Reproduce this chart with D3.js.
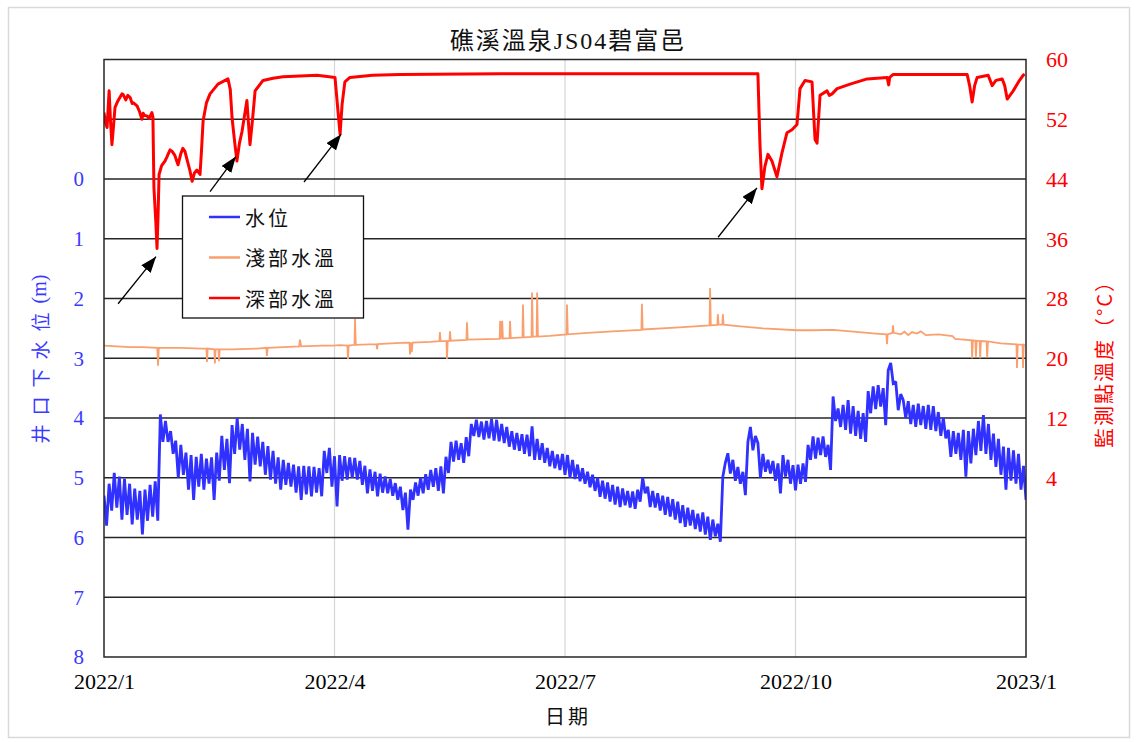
<!DOCTYPE html>
<html><head><meta charset="utf-8">
<script src="https://cdn.jsdelivr.net/npm/d3@7/dist/d3.min.js"></script>
<style>body{margin:0;background:#fff}svg{display:block}</style>
</head><body><svg id="c" width="1137" height="742"></svg>
<script>
// ---------------- DATA ----------------
const chartTitle = "礁溪溫泉JS04碧富邑";
const xTitle = "日期";
const yLeftTitle = "井口下水位";
const yLeftUnit = "(m)";
const yRightTitle = "監測點溫度（°C）";
const seriesNames = ["水位", "淺部水溫", "深部水溫"];
const xTickDates = ["2022-01-01", "2022-04-01", "2022-07-01", "2022-10-01", "2023-01-01"];
const xTickLabels = ["2022/1", "2022/4", "2022/7", "2022/10", "2023/1"];
const leftTicks = [0, 1, 2, 3, 4, 5, 6, 7, 8];
const rightTicks = [4, 12, 20, 28, 36, 44, 52, 60];
const startDate = "2022-01-01";

// water level below well head (m), one reading per day from 2022/1/1
const levelValues = [
5.30,5.80,5.10,5.55,4.92,5.50,4.98,5.70,5.02,5.62,5.10,5.78,5.18,5.70,5.22,5.95,5.20,5.72,5.12,5.65,
5.06,5.72,3.94,4.40,4.05,4.40,4.22,4.60,4.38,5.00,4.45,4.95,4.58,5.20,4.62,5.37,4.65,5.15,4.60,5.20,
4.68,5.10,4.66,5.37,4.58,5.05,4.30,4.87,4.35,5.09,4.12,4.60,4.00,4.53,4.10,4.70,4.18,5.06,4.25,4.78,
4.31,4.81,4.40,4.95,4.47,5.03,4.55,5.10,4.66,5.20,4.70,5.12,4.75,5.15,4.78,5.25,4.81,5.37,4.80,5.28,
4.81,5.31,4.82,5.25,4.84,5.31,4.55,4.92,4.50,5.15,4.64,5.48,4.62,5.05,4.64,5.03,4.66,5.00,4.67,5.03,
4.72,5.12,4.80,5.26,4.86,5.22,4.90,5.31,4.93,5.25,4.98,5.26,5.02,5.30,5.09,5.37,5.15,5.54,5.25,5.87,
5.20,5.37,5.08,5.30,5.00,5.26,4.94,5.20,4.87,5.15,4.84,5.22,4.81,5.26,4.65,4.92,4.40,4.73,4.38,4.70,
4.42,4.75,4.32,4.64,4.10,4.30,4.03,4.32,4.06,4.36,4.05,4.34,4.02,4.38,4.03,4.39,4.10,4.42,4.15,4.48,
4.22,4.53,4.25,4.55,4.27,4.60,4.28,4.64,4.14,4.70,4.35,4.70,4.42,4.75,4.50,4.81,4.55,4.84,4.61,4.87,
4.60,4.95,4.62,5.00,4.70,5.02,4.78,5.06,4.84,5.10,4.90,5.16,4.95,5.22,5.00,5.32,5.05,5.35,5.08,5.40,
5.12,5.45,5.15,5.49,5.18,5.46,5.22,5.50,5.23,5.52,5.20,5.40,5.00,5.26,5.15,5.49,5.22,5.50,5.26,5.55,
5.30,5.62,5.32,5.65,5.36,5.70,5.40,5.76,5.46,5.82,5.50,5.80,5.54,5.86,5.60,5.90,5.58,5.95,5.65,6.04,
5.70,5.98,5.77,6.07,4.98,4.75,4.59,4.93,4.70,5.05,4.82,5.10,4.90,5.29,4.40,4.15,4.54,4.30,4.42,5.00,
4.60,4.90,4.70,4.93,4.72,5.05,4.76,5.26,4.62,4.98,4.70,5.10,4.79,5.21,4.78,5.10,4.76,5.07,4.45,4.70,
4.31,4.68,4.33,4.62,4.31,4.65,4.45,4.87,3.64,4.05,3.84,4.15,3.78,4.20,3.70,4.26,3.80,4.30,3.88,4.35,
3.92,4.40,3.55,3.92,3.47,3.85,3.45,3.81,3.50,4.12,3.20,3.08,3.42,3.39,3.87,3.60,3.70,4.00,3.72,4.10,
3.78,4.15,3.76,4.12,3.80,4.18,3.78,4.20,3.80,4.22,3.90,4.30,4.00,4.34,4.20,4.65,4.22,4.60,4.25,4.70,
4.20,4.98,4.22,4.76,4.18,4.62,4.05,4.55,3.95,4.60,4.10,4.70,4.26,4.82,4.35,4.95,4.48,5.20,4.50,5.05,
4.54,5.10,4.60,5.20,4.80,5.37
];

// shallow water temperature (°C): day offset from 2022/1/1 and value
const shallowDays = [0,5,10,15,20.8,21.1,21.4,30,38,40.0,40.2,40.5,43.1,43.3,43.6,44.7,44.9,45.2,50,60,
63.4,63.6,63.9,70,76.2,76.5,77,85,89.4,92,95.1,95.3,95.6,97.9,98.1,98.4,106.6,106.8,107.1,115.9,
119.6,119.8,120.2,120.5,120.8,128,131.4,131.6,131.9,134.2,134.4,134.7,135.4,135.6,135.9,142.1,142.3,142.6,150,155.2,
155.4,155.7,156.2,156.5,159.1,159.3,159.6,164.2,164.4,164.7,167.8,168,168.3,169.8,170,170.3,175,181.6,181.8,182.1,
190,200,211.5,211.7,212,225,238.7,238.9,239.2,241.8,242,242.3,243.8,244,244.3,250,260,273.6,280,288,
295,305,309.3,309.5,309.8,311.7,311.9,312.2,315,316.5,318,319.5,321.5,323,325,330,335.7,336.7,343.3,343.5,
343.8,344.8,345,345.3,346.5,346.7,347,349.3,349.5,349.8,355,361.2,361.4,361.7,363.6,363.8,364.1,364.6];
const shallowTemps = [21.7,21.6,21.5,21.5,21.4,19.0,21.4,21.4,21.3,21.3,19.5,21.3,21.2,19.3,21.2,21.2,19.6,21.2,21.2,21.3,
21.4,20.3,21.4,21.5,21.6,22.5,21.6,21.7,21.7,21.75,21.7,19.9,21.7,21.8,25.3,21.8,21.9,21.2,21.9,22.05,
22.1,20.5,22.1,20.8,22.1,22.2,22.3,23.5,22.3,22.3,19.9,22.3,22.35,23.6,22.35,22.45,24.8,22.5,22.55,22.6,
25.0,22.6,25.0,22.65,22.7,25.0,22.7,22.8,27.2,22.8,22.85,28.8,22.9,22.9,28.8,22.9,23.0,23.2,27.2,23.2,
23.4,23.6,23.8,27.3,23.85,24.1,24.4,29.4,24.4,24.45,25.9,24.5,24.5,25.9,24.5,24.3,24.0,23.75,23.75,23.8,
23.6,23.3,23.2,21.9,23.2,23.4,24.4,23.4,23.2,23.55,23.1,23.5,23.3,23.6,23.1,23.2,22.95,22.6,22.4,20.0,
22.4,22.35,20.2,22.35,22.3,20.0,22.3,22.25,20.1,22.25,22.0,21.85,18.7,21.85,21.8,18.7,21.8,21.7];

// deep water temperature (°C): day offset from 2022/1/1 and value
const deepDays = [0,0.6,1.2,2.0,2.5,3.1,3.7,4.3,5.2,6.2,7.0,7.5,8.5,9.3,10.2,11.0,11.5,12.9,13.9,14.8,15.3,15.8,16.8,17.6,
18.7,19.1,19.5,20.2,20.7,21.1,21.5,22.5,23.8,24.5,25,25.8,26.6,27.6,28.9,30,30.8,31.6,32.5,33.5,34.4,35.3,36.3,
37.5,38.1,38.7,40,41.4,44.5,48.4,49.3,50,51,51.9,52.9,53.9,55.8,56.3,57,58,59,62.1,66,
69.9,83.2,90.2,91.4,92.2,93,94.1,96.1,105,115.9,155.3,234.9,258,258.8,259.6,260.8,262,263.6,265.6,267.6,
269.6,271.6,273.6,274.8,276.8,279.6,280.2,280.8,281.6,282.2,282.8,285.6,286.5,287.6,289.6,294.8,301.6,309.6,310.2,310.6,
312,341.5,342.5,343.5,344.5,345.5,349.9,351.5,353,355.5,356.5,357.5,359.9,362,363.9,364.5];
const deepTemps = [52.9,51.5,50.9,55.8,52,48.6,51,53.6,54.3,54.9,55.4,55.3,54.6,55.2,54.9,54.1,54.2,53.8,53.0,52.0,52.8,52.5,52.45,52.1,
52.9,52.3,42.8,38.5,34.7,39,44.6,45.8,46.4,46.9,47.3,47.9,47.7,47.2,45.9,47.4,48.1,47.7,46.5,45.2,43.7,44.8,45.2,
44.6,48,51.8,54.2,55.4,56.7,57.4,56,52.2,49,46.4,48.8,50.4,54.5,52,48.6,52,55.8,57.2,57.5,
57.7,57.9,57.6,53,50.0,54,57.0,57.6,57.9,58.0,58.1,58.1,58.1,48.8,42.7,45.7,47.3,46.4,44.3,47.5,
50.2,50.6,51.3,56.1,57.2,57.0,53,49.3,48.8,52,55.2,55.8,55.2,55.4,56.1,56.7,57.4,57.6,56.6,57.6,
58.0,58.0,56.5,54.3,56.5,57.6,57.9,56.5,57.2,57.4,56.5,54.7,55.8,57.0,57.9,58.0];

// annotation arrows on the deep temperature dips: [day, °C] of tail and tip
const arrowTails = [[5.5, 27.3], [41.4, 42.3], [78.1, 43.6], [242.1, 36.2]];
const arrowTips  = [[20.3, 33.6], [51.5, 47.0], [92.6, 50.0], [257.6, 42.8]];

// ---------------- LAYOUT / STYLE ----------------
const M = {left: 104, right: 1026, top: 59.5, bottom: 657};
const colors = {level: "#3030FF", shallow: "#F9A06E", deep: "#FF0000",
  leftText: "#3A3AFF", rightText: "#FF0000", grid: "#262626", vgrid: "#D6D6D6"};
const SERIF = '"Liberation Serif", "Noto Sans CJK TC", serif';
const CJK = '"Noto Sans CJK TC", "Liberation Serif", sans-serif';

const svg = d3.select("#c");
const parse = d3.utcParse("%Y-%m-%d");
const t0 = parse(startDate).getTime();
const dayToDate = d => new Date(t0 + d * 864e5);

const plotW = M.right - M.left;
const x = d3.scaleUtc()
  .domain(xTickDates.map(parse))
  .range(xTickDates.map((d, i) => M.left + i * plotW / (xTickDates.length - 1)));
const yL = d3.scaleLinear().domain([-2, 8]).range([M.top, M.bottom]);
const yR = d3.scaleLinear().domain([-20, 60]).range([M.bottom, M.top]);

// outer frame
svg.append("rect").attr("x", 8.5).attr("y", 7.5).attr("width", 1121).attr("height", 730)
  .attr("fill", "#fff").attr("stroke", "#D9D9D9").attr("stroke-width", 1.5);

svg.append("clipPath").attr("id", "clip").append("rect")
  .attr("x", M.left).attr("y", M.top).attr("width", plotW).attr("height", M.bottom - M.top);

// vertical grid
const g = svg.append("g");
g.selectAll(".vg").data(xTickDates.slice(1, -1)).join("line")
  .attr("x1", d => x(parse(d))).attr("x2", d => x(parse(d)))
  .attr("y1", M.top).attr("y2", M.bottom)
  .attr("stroke", colors.vgrid).attr("stroke-width", 1.2);

// horizontal grid
g.selectAll(".hg").data(d3.range(-1, 8)).join("line")
  .attr("x1", M.left).attr("x2", M.right)
  .attr("y1", d => yL(d)).attr("y2", d => yL(d))
  .attr("stroke", colors.grid).attr("stroke-width", 1.3);

// series
const dataG = svg.append("g").attr("clip-path", "url(#clip)");
const levelPts = levelValues.map((v, i) => [dayToDate(i), v]);
dataG.append("path").datum(levelPts)
  .attr("fill", "none").attr("stroke", colors.level).attr("stroke-width", 2.8)
  .attr("stroke-linejoin", "miter").attr("stroke-miterlimit", 2)
  .attr("d", d3.line().x(d => x(d[0])).y(d => yL(d[1])));

const shallowPts = shallowDays.map((d, i) => [dayToDate(d), shallowTemps[i]]);
dataG.append("path").datum(shallowPts)
  .attr("fill", "none").attr("stroke", colors.shallow).attr("stroke-width", 1.8)
  .attr("d", d3.line().x(d => x(d[0])).y(d => yR(d[1])));

const deepPts = deepDays.map((d, i) => [dayToDate(d), deepTemps[i]]);
dataG.append("path").datum(deepPts)
  .attr("fill", "none").attr("stroke", colors.deep).attr("stroke-width", 3)
  .attr("stroke-linejoin", "round")
  .attr("d", d3.line().x(d => x(d[0])).y(d => yR(d[1])));

// plot border
svg.append("rect").attr("x", M.left).attr("y", M.top).attr("width", plotW).attr("height", M.bottom - M.top)
  .attr("fill", "none").attr("stroke", colors.grid).attr("stroke-width", 1.5);

// axes (labels only)
const axL = svg.append("g").attr("transform", `translate(${M.left},0)`)
  .call(d3.axisLeft(yL).tickValues(leftTicks).tickSize(0).tickPadding(20).tickFormat(d3.format("d")));
axL.select(".domain").remove();
axL.selectAll("text").attr("fill", colors.leftText).attr("font-family", SERIF).attr("font-size", 21)
  .attr("dy", "0.33em");

const axR = svg.append("g").attr("transform", `translate(${M.right},0)`)
  .call(d3.axisRight(yR).tickValues(rightTicks).tickSize(0).tickPadding(20).tickFormat(d3.format("d")));
axR.select(".domain").remove();
axR.selectAll("text").attr("fill", colors.rightText).attr("font-family", SERIF).attr("font-size", 22)
  .attr("dy", "0.33em");

const axB = svg.append("g").attr("transform", `translate(0,${M.bottom})`)
  .call(d3.axisBottom(x).tickValues(xTickDates.map(parse)).tickSize(0).tickPadding(16)
    .tickFormat((d, i) => xTickLabels[i]));
axB.select(".domain").remove();
axB.selectAll("text").attr("fill", "#000").attr("font-family", SERIF).attr("font-size", 22);

// titles
svg.append("text").attr("x", 568).attr("y", 49).attr("text-anchor", "middle")
  .attr("font-family", SERIF).attr("font-size", 24).attr("letter-spacing", 2).attr("fill", "#111")
  .text(chartTitle);
svg.append("text").attr("x", 568).attr("y", 724).attr("text-anchor", "middle")
  .attr("font-family", CJK).attr("font-size", 20).attr("letter-spacing", 3).attr("fill", "#111")
  .text(xTitle);

const lt = svg.append("text").attr("transform", "translate(39,359) rotate(-90)")
  .attr("text-anchor", "middle").attr("dominant-baseline", "central").attr("fill", colors.leftText)
  .attr("font-family", CJK).attr("font-size", 19);
lt.append("tspan").attr("letter-spacing", 9).text(yLeftTitle);
lt.append("tspan").attr("font-family", SERIF).attr("font-size", 20).text(yLeftUnit);

svg.append("text").attr("transform", "translate(1103,359) rotate(-90)")
  .attr("text-anchor", "middle").attr("dominant-baseline", "central").attr("fill", colors.rightText)
  .attr("font-family", CJK).attr("font-size", 20).attr("letter-spacing", 2)
  .text(yRightTitle);

// legend
const leg = svg.append("g");
leg.append("rect").attr("x", 182.5).attr("y", 196).attr("width", 181).attr("height", 122)
  .attr("fill", "#fff").attr("stroke", "#111").attr("stroke-width", 1.3);
const legColors = [colors.level, colors.shallow, colors.deep];
seriesNames.forEach((name, i) => {
  const yy = 217 + i * 40.5;
  leg.append("line").attr("x1", 209).attr("x2", 240).attr("y1", yy).attr("y2", yy)
    .attr("stroke", legColors[i]).attr("stroke-width", 2.5);
  leg.append("text").attr("x", 245).attr("y", yy).attr("dominant-baseline", "central")
    .attr("font-family", CJK).attr("font-size", 20).attr("letter-spacing", 3).attr("fill", "#111")
    .text(name);
});

// arrows
const defs = svg.append("defs");
defs.append("marker").attr("id", "ah").attr("viewBox", "0 0 16 12").attr("refX", 16).attr("refY", 6)
  .attr("markerWidth", 16).attr("markerHeight", 12).attr("markerUnits", "userSpaceOnUse")
  .attr("orient", "auto")
  .append("path").attr("d", "M0,0 L16,6 L0,12 Z").attr("fill", "#000");
arrowTails.forEach((tl, i) => {
  const tp = arrowTips[i];
  svg.append("line")
    .attr("x1", x(dayToDate(tl[0]))).attr("y1", yR(tl[1]))
    .attr("x2", x(dayToDate(tp[0]))).attr("y2", yR(tp[1]))
    .attr("stroke", "#000").attr("stroke-width", 1.3).attr("marker-end", "url(#ah)");
});
</script></body></html>
